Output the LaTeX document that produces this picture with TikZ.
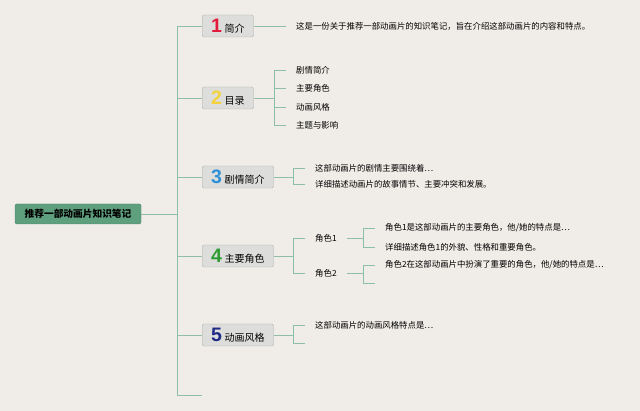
\documentclass[tikz,border=0pt]{standalone}
\usepackage{fontspec}
\setmainfont{Noto Sans CJK SC}
\newfontfamily\numfont{Liberation Sans}
\definecolor{paper}{HTML}{F0EDE8}
\definecolor{branch}{HTML}{8CBFA4}
\definecolor{rootfill}{HTML}{5E9F7E}
\definecolor{boxfill}{HTML}{DDDEDB}
\definecolor{boxline}{HTML}{A8AEAA}
\definecolor{num1}{HTML}{E21B3C}
\definecolor{num2}{HTML}{F4D23C}
\definecolor{num3}{HTML}{2D8FD5}
\definecolor{num4}{HTML}{2F9B34}
\definecolor{num5}{HTML}{1E2A86}
\def\topiclist{{26/t1/1/num1/简介}, {98/t2/2/num2/目录}, {177/t3/3/num3/剧情简介}, {256/t4/4/num4/主要角色}, {335/t5/5/num5/动画风格}}
\def\leaflist{{(296,26)/l1/这是一份关于推荐一部动画片的知识笔记，旨在介绍这部动画片的内容和特点。},
  {(296,70)/l21/剧情简介}, {(296,88)/l22/主要角色}, {(296,107)/l23/动画风格}, {(296,125)/l24/主题与影响},
  {(315,168)/l31/这部动画片的剧情主要围绕着\ldots}, {(315,184)/l32/详细描述动画片的故事情节、主要冲突和发展。},
  {(315,238)/c1/角色1}, {(315,273)/c2/角色2},
  {(385,228)/l41/角色1是这部动画片的主要角色，他\slash 她的特点是\ldots}, {(385,247)/l42/详细描述角色1的外貌、性格和重要角色。},
  {(385,265)/l43/角色2在这部动画片中扮演了重要的角色，他\slash 她的特点是\ldots},
  {(385,283)/l44/}, {(315,325)/l51/这部动画片的动画风格特点是\ldots}, {(315,343)/l52/}}
\tikzstyle{root}=[draw=rootfill!80!black,fill=rootfill,rounded corners=1.5pt,minimum width=126pt,minimum height=20pt,font=\fontsize{9.7}{10}\selectfont\bfseries]
\tikzstyle{topic}=[draw=boxline,fill=boxfill,rounded corners=1.5pt,minimum height=22pt,inner xsep=9pt,inner ysep=0pt,anchor=west,font=\fontsize{10}{12}\selectfont]
\tikzstyle{leaf}=[anchor=west,inner sep=0pt,font=\fontsize{8.4}{10}\selectfont]
\tikzstyle{link}=[draw=branch,line width=0.8pt]

\begin{document}
\begin{tikzpicture}[x=1pt,y=-1pt]
  \useasboundingbox (0,0) rectangle (640,411);
  \fill[paper] (0,0) rectangle (640,411);

  % Root and the trunk
  \node[root] (root) at (78,214) {推荐一部动画片知识笔记};
  \coordinate (top) at (177,26);
  \coordinate (bottom) at (177,395);
  \coordinate (stub) at (202,395);
  \path[link] (root.east) -- (root -| top);
  \path[link] (top) -- (bottom) -- (stub);

  % Numbered topics
  \foreach \y/\name/\num/\col/\txt in \topiclist {
    \node[topic] (\name) at (202,\y) {\textcolor{\col}{\numfont\bfseries\fontsize{19.5}{19.5}\selectfont\num}\hspace{2.5pt}\txt};
    \path[link] (top |- \name) -- (\name.west);
  }

  % Leaves
  \foreach \pos/\name/\txt in \leaflist
    \node[leaf] (\name) at \pos {\txt};

  % Bracket corners
  \coordinate (k2) at (274,98);
  \coordinate (k3) at (293,177);
  \coordinate (k4) at (293,256);
  \coordinate (k41) at (363,238);
  \coordinate (k42) at (363,273);
  \coordinate (k5) at (293,335);

  % Connect topics to their leaves
  \path[link] (t1.east) -- ([xshift=-10pt]l1.west);
  \foreach \parent/\k/\first/\last in {t2/k2/l21/l24, t3/k3/l31/l32, t4/k4/c1/c2, t5/k5/l51/l52}
    \path[link] (\parent.east) -- (\k) (\k |- \first) -- (\k |- \last);
  \foreach \parent/\k/\first/\last in {c1/k41/l41/l42, c2/k42/l43/l44}
    \path[link] ([xshift=10pt]\parent.east) -- (\k) (\k |- \first) -- (\k |- \last);
  \foreach \k/\dest in {k2/l21, k2/l22, k2/l23, k2/l24, k3/l31, k3/l32, k4/c1, k4/c2,
      k41/l41, k41/l42, k42/l43, k42/l44, k5/l51, k5/l52}
    \path[link] (\k |- \dest) -- ([xshift=-10pt]\dest.west);
\end{tikzpicture}
\end{document}
